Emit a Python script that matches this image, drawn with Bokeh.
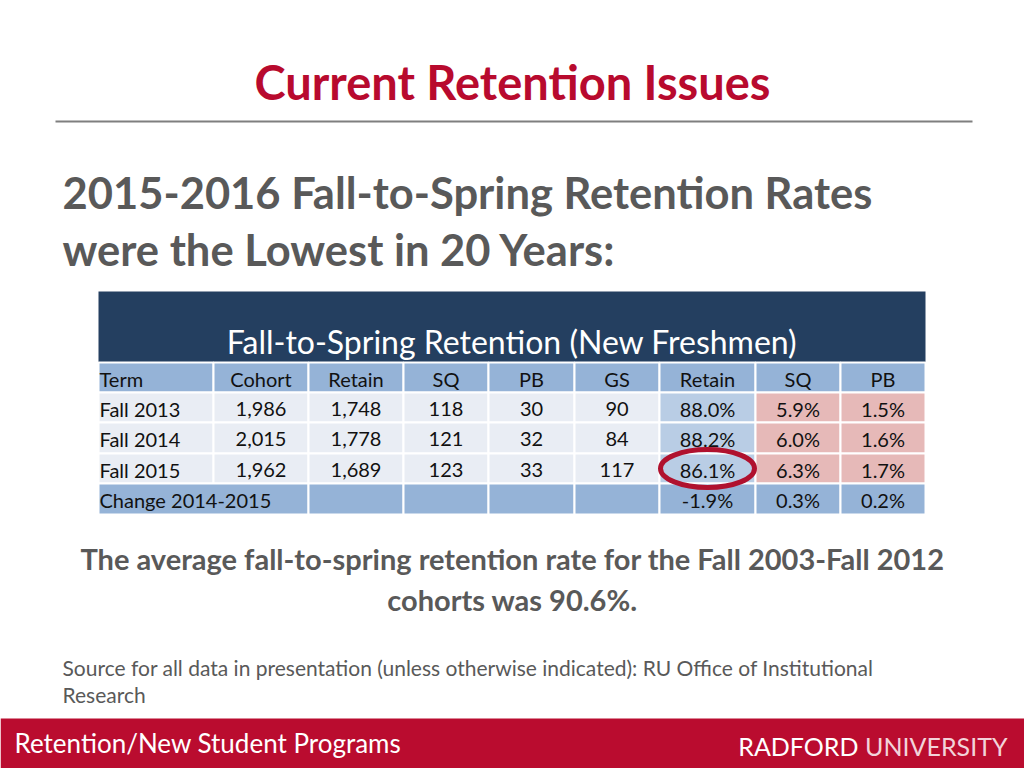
from bokeh.plotting import figure
from bokeh.models import Range1d
from bokeh.core.properties import value
from bokeh.embed import file_html
from bokeh.resources import INLINE

# ---------------- data ----------------
slide_title = "Current Retention Issues"
subtitle_lines = ["2015-2016 Fall-to-Spring Retention Rates", "were the Lowest in 20 Years:"]
table_title = "Fall-to-Spring Retention (New Freshmen)"
columns = ["Term", "Cohort", "Retain", "SQ", "PB", "GS", "Retain", "SQ", "PB"]
terms = ["Fall 2013", "Fall 2014", "Fall 2015"]
cohort = [1986, 2015, 1962]
retain = [1748, 1778, 1689]
sq = [118, 121, 123]
pb = [30, 32, 33]
gs = [90, 84, 117]
retain_pct = [88.0, 88.2, 86.1]
sq_pct = [5.9, 6.0, 6.3]
pb_pct = [1.5, 1.6, 1.7]
change_label = "Change 2014-2015"
change_pct = [-1.9, 0.3, 0.2]
note_lines = ["The average fall-to-spring retention rate for the Fall 2003-Fall 2012",
              "cohorts was 90.6%."]
source_lines = ["Source for all data in presentation (unless otherwise indicated): RU Office of Institutional",
                "Research"]
footer_left = "Retention/New Student Programs"
footer_right = ["RADFORD", "UNIVERSITY"]

# ---------------- layout / style ----------------
FONT = "Lato"
RED = "#B80A2E"
GRAY = "#595959"
NAVY = "#243F60"
HDR = "#95B3D7"
LIGHT = "#E9EDF4"
BLUE_PCT = "#B9CDE5"
PINK = "#E6B9B8"
K = 0.4  # baseline correction factor for rendered text

W, H = 1024, 768
p = figure(width=W, height=H, output_backend="svg", toolbar_location=None,
           x_range=Range1d(0, W), y_range=Range1d(H, 0),
           min_border=0, outline_line_color=None, background_fill_color="white",
           border_fill_color="white")
p.axis.visible = False
p.grid.visible = False

def txt(x, base, t, size, color="black", align="left", style="normal", font=FONT):
    p.text(x=[x], y=[base - K * size], text=[t], text_font=value(font), text_font_size=f"{size}px",
           text_color=color, text_align=align, text_baseline="alphabetic",
           text_font_style=style)

# title + rule
txt(512, 100, slide_title, 47, RED, "center", "bold")
p.line(x=[55, 972], y=[121, 121], line_color="#7F7F7F", line_width=2)

# subtitle
txt(62, 209, subtitle_lines[0], 43.5, GRAY, "left", "bold")
txt(62, 266, subtitle_lines[1], 43.5, GRAY, "left", "bold")

# ---------------- table ----------------
col_edges = [98, 213, 308, 403, 488, 574, 659, 755, 840, 925]
row_edges = [362, 392, 422, 453, 483, 514]   # header row, 3 data rows, change row
title_top = 291

p.quad(left=[col_edges[0]], right=[col_edges[-1]], top=[title_top], bottom=[row_edges[0]],
       fill_color=NAVY, line_color=None)
txt((col_edges[0] + col_edges[-1]) / 2, 354, table_title, 32, "white", "center")

L, R, T, B, C = [], [], [], [], []
n = len(terms)
for j in range(len(columns)):
    L.append(col_edges[j]); R.append(col_edges[j + 1]); T.append(row_edges[0]); B.append(row_edges[1]); C.append(HDR)
for i in range(n):
    for j in range(len(columns)):
        col = LIGHT if j < 6 else (BLUE_PCT if j == 6 else PINK)
        L.append(col_edges[j]); R.append(col_edges[j + 1]); T.append(row_edges[i + 1]); B.append(row_edges[i + 2]); C.append(col)
L.append(col_edges[0]); R.append(col_edges[2]); T.append(row_edges[n + 1]); B.append(row_edges[n + 2]); C.append(HDR)
for j in range(2, len(columns)):
    L.append(col_edges[j]); R.append(col_edges[j + 1]); T.append(row_edges[n + 1]); B.append(row_edges[n + 2]); C.append(HDR)
p.quad(left=L, right=R, top=T, bottom=B, fill_color=C, line_color="white", line_width=2)

def cell_text(j, row, t):
    cx = (col_edges[j] + col_edges[j + 1]) / 2
    base = row_edges[row] + 24
    if j == 0:
        txt(col_edges[0] + 1, base, t, 20, "#111111", "left")
    else:
        txt(cx, base, t, 20, "#111111", "center")

for j, c in enumerate(columns):
    cell_text(j, 0, c)
for i in range(n):
    vals = [terms[i], f"{cohort[i]:,}", f"{retain[i]:,}", f"{sq[i]}", f"{pb[i]}", f"{gs[i]}",
            f"{retain_pct[i]:.1f}%", f"{sq_pct[i]:.1f}%", f"{pb_pct[i]:.1f}%"]
    for j, v in enumerate(vals):
        cell_text(j, i + 1, v)
cell_text(0, n + 1, change_label)
for k, v in enumerate(change_pct):
    cell_text(6 + k, n + 1, f"{v:.1f}%")

# circle the lowest retention rate
imin = retain_pct.index(min(retain_pct))
cx = (col_edges[6] + col_edges[7]) / 2
cy = (row_edges[imin + 1] + row_edges[imin + 2]) / 2
p.ellipse(x=[cx], y=[cy], width=94, height=38, fill_alpha=0, line_color="#B0112E", line_width=5)

# note
txt(512, 570, note_lines[0], 29, GRAY, "center", "bold")
txt(512, 611, note_lines[1], 29, GRAY, "center", "bold")

# source
txt(62, 675, source_lines[0], 21, GRAY, "left")
txt(62, 702, source_lines[1], 21, GRAY, "left")

# footer
p.quad(left=[0], right=[1024], top=[718], bottom=[768], fill_color="#BA0C2F", line_color=None)
txt(14, 753, footer_left, 26, "white", "left")
txt(1007, 755, footer_right[1], 25, "#F2D3DA", "right")
txt(858, 755, footer_right[0], 25, "white", "right")

open("out.html", "w").write(file_html(p, INLINE))
